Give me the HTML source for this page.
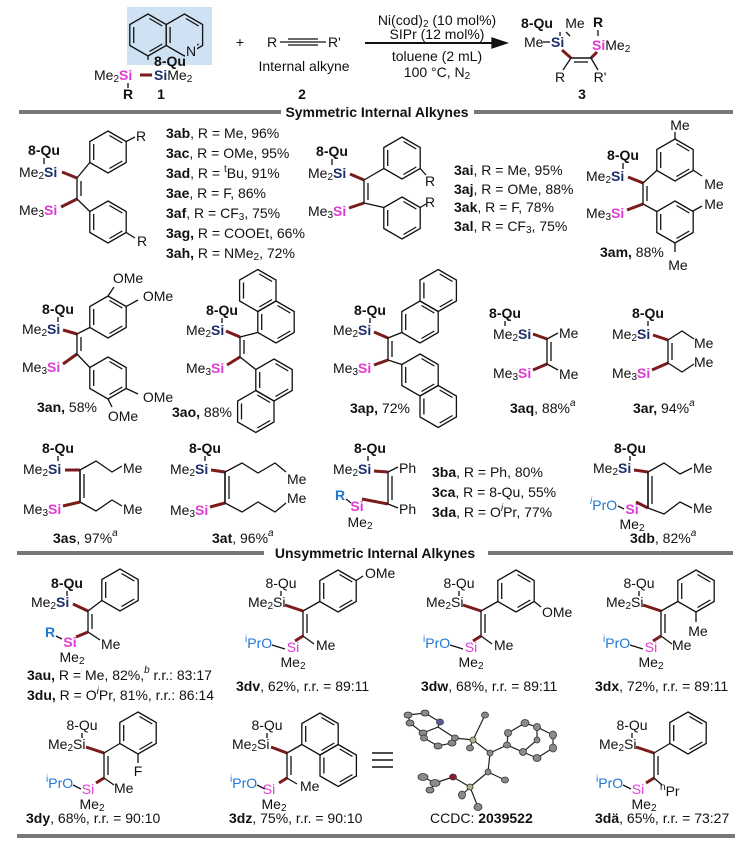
<!DOCTYPE html>
<html><head><meta charset="utf-8"><style>
html,body{margin:0;padding:0;background:#fff}
svg{display:block}
text{font-family:"Liberation Sans",Arial,sans-serif;font-size:14px;fill:#111;dominant-baseline:central}
.b{font-weight:bold}
.s{font-size:10px}
.n{fill:#1c2f6b;font-weight:bold}
.m{fill:#e03ad6;font-weight:bold}
.mr{fill:#e03ad6}
.bl{fill:#1f78d1}
.blb{fill:#1f78d1;font-weight:bold}
line,polyline,polygon{stroke:#111;stroke-width:1.3;fill:none}
.r{stroke:#7b1b1b;stroke-width:3}
.g{stroke:#777;stroke-width:4}
.at{fill:#8a8a8a;stroke:#333;stroke-width:0.8}
.cb{stroke:#222;stroke-width:1.2}
</style></head><body>
<svg width="751" height="845" viewBox="0 0 751 845" xmlns="http://www.w3.org/2000/svg">
<defs>
<g id="h">
<polygon points="0,-21 18.2,-10.5 18.2,10.5 0,21 -18.2,10.5 -18.2,-10.5"/>
<line x1="1.5" y1="-16.5" x2="14.3" y2="-9"/>
<line x1="14.3" y1="9" x2="1.5" y2="16.5"/>
<line x1="-14.3" y1="8" x2="-14.3" y2="-8"/>
</g>
</defs>

<!-- ===== top reaction ===== -->
<rect x="127" y="7" width="85" height="58" fill="#cfe2f3"/>
<use href="#h" x="148" y="35"/>
<use href="#h" x="184.4" y="35"/>
<rect x="185" y="44" width="12" height="14" fill="#cfe2f3"/>
<text x="191" y="51" text-anchor="middle">N</text>
<line x1="148" y1="56" x2="148" y2="60"/>
<text x="170" y="61" class="b" text-anchor="middle">8-Qu</text>
<text x="94" y="75">Me<tspan class="s" dy="4">2</tspan><tspan dy="-4" class="m">Si</tspan></text>
<line x1="140" y1="75" x2="152" y2="75" class="r"/>
<text x="154" y="75"><tspan class="n">Si</tspan>Me<tspan class="s" dy="4">2</tspan></text>
<line x1="128" y1="83" x2="128" y2="88"/>
<text x="128" y="94" class="b" text-anchor="middle">R</text>
<text x="161" y="94" class="b" text-anchor="middle">1</text>

<text x="240" y="42" text-anchor="middle">+</text>
<text x="267" y="42">R</text>
<line x1="280" y1="42" x2="326" y2="42"/>
<line x1="288" y1="39" x2="318" y2="39"/>
<line x1="288" y1="45" x2="318" y2="45"/>
<text x="328" y="42">R'</text>
<text x="304" y="66" text-anchor="middle">Internal alkyne</text>
<text x="302" y="94" class="b" text-anchor="middle">2</text>

<line x1="365" y1="43" x2="495" y2="43" style="stroke-width:2"/>
<polygon points="507,43 492,38 492,48" style="fill:#111;stroke:#111"/>
<text x="437" y="20" text-anchor="middle">Ni(cod)<tspan class="s" dy="4">2</tspan><tspan dy="-4"> (10 mol%)</tspan></text>
<text x="437" y="34" text-anchor="middle">SIPr (12 mol%)</text>
<text x="437" y="56" text-anchor="middle">toluene (2 mL)</text>
<text x="437" y="72" text-anchor="middle">100 °C, N<tspan class="s" dy="4">2</tspan></text>

<text x="537" y="23" class="b" text-anchor="middle">8-Qu</text>
<text x="575" y="23" text-anchor="middle">Me</text>
<text x="598" y="22" class="b" text-anchor="middle">R</text>
<text x="524" y="42">Me</text>
<line x1="543" y1="42" x2="550" y2="42"/>
<text x="551" y="42" class="n">Si</text>
<line x1="560" y1="32" x2="560" y2="36"/>
<line x1="566" y1="32" x2="570" y2="36"/>
<line x1="598" y1="30" x2="598" y2="36"/>
<text x="592" y="45"><tspan class="m">Si</tspan>Me<tspan class="s" dy="4">2</tspan></text>
<line x1="562" y1="50" x2="571" y2="58" class="r"/>
<line x1="597" y1="52" x2="591" y2="58" class="r"/>
<line x1="571" y1="58" x2="591" y2="58" style="stroke-width:1.5"/>
<line x1="574" y1="62" x2="588" y2="62"/>
<line x1="571" y1="58" x2="563" y2="70"/>
<line x1="591" y1="58" x2="598" y2="70"/>
<text x="560" y="77" text-anchor="middle">R</text>
<text x="600" y="77" text-anchor="middle">R'</text>
<text x="582" y="94" class="b" text-anchor="middle">3</text>

<!-- header 1 -->
<line x1="19" y1="112" x2="281" y2="112" class="g"/>
<line x1="474" y1="112" x2="733" y2="112" class="g"/>
<text x="377" y="112" class="b" text-anchor="middle">Symmetric Internal Alkynes</text>

<!-- 3ab -->
<text x="44" y="150" class="b" text-anchor="middle">8-Qu</text>
<line x1="44" y1="158" x2="44" y2="164"/>
<text x="19" y="172">Me<tspan class="s" dy="4">2</tspan><tspan dy="-4" class="n">Si</tspan></text>
<text x="19" y="210">Me<tspan class="s" dy="4">3</tspan><tspan dy="-4" class="m">Si</tspan></text>
<line x1="62" y1="172" x2="77" y2="178" class="r"/>
<line x1="61" y1="207" x2="77" y2="199" class="r"/>
<line x1="77" y1="178" x2="77" y2="199"/><line x1="81" y1="181" x2="81" y2="196"/>
<use href="#h" x="108" y="152"/><use href="#h" x="108" y="222"/>
<line x1="77" y1="178" x2="89.8" y2="162.5"/>
<line x1="77" y1="199" x2="89.8" y2="211.5"/>
<line x1="126.2" y1="141.5" x2="135" y2="137"/>
<line x1="126.2" y1="232.5" x2="135" y2="238"/>
<text x="141" y="136" text-anchor="middle">R</text>
<text x="142" y="241" text-anchor="middle">R</text>
<text x="166" y="133"><tspan class="b">3ab</tspan>, R = Me, 96%</text>
<text x="166" y="153"><tspan class="b">3ac</tspan>, R = OMe, 95%</text>
<text x="166" y="173"><tspan class="b">3ad</tspan>, R = <tspan class="s" dy="-4">t</tspan><tspan dy="4">Bu, 91%</tspan></text>
<text x="166" y="193"><tspan class="b">3ae</tspan>, R = F, 86%</text>
<text x="166" y="213"><tspan class="b">3af</tspan>, R = CF<tspan class="s" dy="4">3</tspan><tspan dy="-4">, 75%</tspan></text>
<text x="166" y="233"><tspan class="b">3ag,</tspan> R = COOEt, 66%</text>
<text x="166" y="253"><tspan class="b">3ah,</tspan> R = NMe<tspan class="s" dy="4">2</tspan><tspan dy="-4">, 72%</tspan></text>

<!-- 3ai -->
<text x="332" y="151" class="b" text-anchor="middle">8-Qu</text>
<line x1="332" y1="159" x2="332" y2="165"/>
<text x="308" y="173">Me<tspan class="s" dy="4">2</tspan><tspan dy="-4" class="n">Si</tspan></text>
<text x="308" y="211">Me<tspan class="s" dy="4">3</tspan><tspan dy="-4" class="m">Si</tspan></text>
<line x1="350" y1="174" x2="364" y2="180" class="r"/>
<line x1="349" y1="208" x2="364" y2="203" class="r"/>
<line x1="364" y1="180" x2="364" y2="203"/><line x1="368" y1="183" x2="368" y2="200"/>
<use href="#h" x="402" y="158"/><use href="#h" x="402" y="218"/>
<line x1="364" y1="180" x2="383.8" y2="168.5"/>
<line x1="364" y1="203" x2="383.8" y2="207.5"/>
<line x1="420.2" y1="168.5" x2="426" y2="175"/>
<line x1="420.2" y1="207.5" x2="426" y2="204"/>
<text x="430" y="181" text-anchor="middle">R</text>
<text x="430" y="202" text-anchor="middle">R</text>
<text x="454" y="170"><tspan class="b">3ai</tspan>, R = Me, 95%</text>
<text x="454" y="189"><tspan class="b">3aj</tspan>, R = OMe, 88%</text>
<text x="454" y="207"><tspan class="b">3ak</tspan>, R = F, 78%</text>
<text x="454" y="226"><tspan class="b">3al</tspan>, R = CF<tspan class="s" dy="4">3</tspan><tspan dy="-4">, 75%</tspan></text>

<!-- 3am -->
<text x="623" y="155" class="b" text-anchor="middle">8-Qu</text>
<line x1="623" y1="163" x2="623" y2="169"/>
<text x="586" y="176">Me<tspan class="s" dy="4">2</tspan><tspan dy="-4" class="n">Si</tspan></text>
<text x="586" y="213">Me<tspan class="s" dy="4">3</tspan><tspan dy="-4" class="m">Si</tspan></text>
<line x1="628" y1="177" x2="643" y2="183" class="r"/>
<line x1="627" y1="210" x2="643" y2="204" class="r"/>
<line x1="643" y1="183" x2="643" y2="204"/><line x1="647" y1="186" x2="647" y2="201"/>
<use href="#h" x="675" y="160"/><use href="#h" x="675" y="222"/>
<line x1="643" y1="183" x2="656.8" y2="170.5"/>
<line x1="643" y1="204" x2="656.8" y2="211.5"/>
<line x1="675" y1="139" x2="675" y2="132"/>
<text x="680" y="125" text-anchor="middle">Me</text>
<line x1="693" y1="170" x2="702" y2="176"/>
<text x="714" y="184" text-anchor="middle">Me</text>
<line x1="693" y1="211" x2="702" y2="206"/>
<text x="714" y="204" text-anchor="middle">Me</text>
<line x1="675" y1="243" x2="675" y2="252"/>
<text x="678" y="265" text-anchor="middle">Me</text>
<text x="600" y="252"><tspan class="b">3am,</tspan> 88%</text>

<!-- 3an -->
<text x="58" y="309" class="b" text-anchor="middle">8-Qu</text>
<line x1="58" y1="317" x2="58" y2="322"/>
<text x="22" y="329">Me<tspan class="s" dy="4">2</tspan><tspan dy="-4" class="n">Si</tspan></text>
<text x="22" y="367">Me<tspan class="s" dy="4">3</tspan><tspan dy="-4" class="m">Si</tspan></text>
<line x1="63" y1="330" x2="77" y2="334" class="r"/>
<line x1="63" y1="364" x2="77" y2="354" class="r"/>
<line x1="77" y1="334" x2="77" y2="354"/><line x1="81" y1="337" x2="81" y2="351"/>
<use href="#h" x="108" y="317"/><use href="#h" x="108" y="378"/>
<line x1="77" y1="334" x2="89.8" y2="327.5"/>
<line x1="77" y1="354" x2="89.8" y2="367.5"/>
<line x1="108" y1="296" x2="114" y2="287"/>
<text x="128" y="278" text-anchor="middle">OMe</text>
<line x1="126.2" y1="306.5" x2="138" y2="300"/>
<text x="158" y="296" text-anchor="middle">OMe</text>
<line x1="126.2" y1="388.5" x2="138" y2="394"/>
<text x="158" y="397" text-anchor="middle">OMe</text>
<line x1="108" y1="399" x2="112" y2="407"/>
<text x="123" y="416" text-anchor="middle">OMe</text>
<text x="37" y="407"><tspan class="b">3an,</tspan> 58%</text>

<!-- 3ao -->
<text x="222" y="310" class="b" text-anchor="middle">8-Qu</text>
<line x1="222" y1="318" x2="222" y2="323"/>
<text x="186" y="330">Me<tspan class="s" dy="4">2</tspan><tspan dy="-4" class="n">Si</tspan></text>
<text x="186" y="368">Me<tspan class="s" dy="4">3</tspan><tspan dy="-4" class="m">Si</tspan></text>
<line x1="226" y1="331" x2="240" y2="337" class="r"/>
<line x1="227" y1="365" x2="240" y2="357" class="r"/>
<line x1="240" y1="337" x2="240" y2="357"/><line x1="244" y1="340" x2="244" y2="354"/>
<use href="#h" x="276" y="322"/><use href="#h" x="257.8" y="290.5"/>
<use href="#h" x="274" y="380"/><use href="#h" x="255.8" y="411.5"/>
<line x1="240" y1="337" x2="257.8" y2="332.5"/>
<line x1="240" y1="357" x2="255.8" y2="369.5"/>
<text x="172" y="412"><tspan class="b">3ao,</tspan> 88%</text>

<!-- 3ap -->
<text x="370" y="310" class="b" text-anchor="middle">8-Qu</text>
<line x1="370" y1="318" x2="370" y2="323"/>
<text x="333" y="330">Me<tspan class="s" dy="4">2</tspan><tspan dy="-4" class="n">Si</tspan></text>
<text x="333" y="368">Me<tspan class="s" dy="4">3</tspan><tspan dy="-4" class="m">Si</tspan></text>
<line x1="374" y1="332" x2="388" y2="338" class="r"/>
<line x1="374" y1="365" x2="388" y2="360" class="r"/>
<line x1="388" y1="338" x2="388" y2="360"/><line x1="392" y1="341" x2="392" y2="357"/>
<use href="#h" x="420" y="322"/><use href="#h" x="438.2" y="290.5"/>
<use href="#h" x="420" y="375"/><use href="#h" x="438.2" y="406.5"/>
<line x1="388" y1="338" x2="401.8" y2="332.5"/>
<line x1="388" y1="360" x2="401.8" y2="364.5"/>
<text x="350" y="408"><tspan class="b">3ap,</tspan> 72%</text>

<!-- 3aq -->
<text x="505" y="313" class="b" text-anchor="middle">8-Qu</text>
<line x1="505" y1="321" x2="505" y2="326"/>
<text x="493" y="334">Me<tspan class="s" dy="4">2</tspan><tspan dy="-4" class="n">Si</tspan></text>
<text x="493" y="373">Me<tspan class="s" dy="4">3</tspan><tspan dy="-4" class="m">Si</tspan></text>
<line x1="533" y1="334" x2="547" y2="339" class="r"/>
<line x1="533" y1="370" x2="547" y2="364" class="r"/>
<line x1="547" y1="339" x2="547" y2="364"/><line x1="551" y1="342" x2="551" y2="361"/>
<line x1="547" y1="339" x2="558" y2="333"/><line x1="547" y1="364" x2="558" y2="370"/>
<text x="559" y="333">Me</text><text x="559" y="374">Me</text>
<text x="510" y="408"><tspan class="b">3aq</tspan>, 88%<tspan class="s" dy="-5" font-style="italic">a</tspan></text>

<!-- 3ar -->
<text x="648" y="313" class="b" text-anchor="middle">8-Qu</text>
<line x1="648" y1="321" x2="648" y2="326"/>
<text x="612" y="334">Me<tspan class="s" dy="4">2</tspan><tspan dy="-4" class="n">Si</tspan></text>
<text x="612" y="373">Me<tspan class="s" dy="4">3</tspan><tspan dy="-4" class="m">Si</tspan></text>
<line x1="653" y1="335" x2="668" y2="340" class="r"/>
<line x1="652" y1="370" x2="668" y2="363" class="r"/>
<line x1="668" y1="340" x2="668" y2="363"/><line x1="672" y1="343" x2="672" y2="360"/>
<polyline points="668,340 682,331 694,339"/>
<polyline points="668,363 682,372 694,364"/>
<text x="694" y="343">Me</text><text x="694" y="362">Me</text>
<text x="633" y="408"><tspan class="b">3ar,</tspan> 94%<tspan class="s" dy="-5" font-style="italic">a</tspan></text>

<!-- 3as -->
<text x="58" y="448" class="b" text-anchor="middle">8-Qu</text>
<line x1="58" y1="456" x2="58" y2="461"/>
<text x="23" y="469">Me<tspan class="s" dy="4">2</tspan><tspan dy="-4" class="n">Si</tspan></text>
<text x="23" y="509">Me<tspan class="s" dy="4">3</tspan><tspan dy="-4" class="m">Si</tspan></text>
<line x1="65" y1="470" x2="80" y2="470" class="r"/>
<line x1="63" y1="506" x2="80" y2="502" class="r"/>
<line x1="80" y1="470" x2="80" y2="502" style="stroke-width:1.6"/><line x1="84" y1="474" x2="84" y2="498"/>
<polyline points="80,470 96,461 112,472 122,466"/>
<polyline points="80,502 96,511 112,500 122,506"/>
<text x="123" y="468">Me</text><text x="123" y="509">Me</text>
<text x="53" y="538"><tspan class="b">3as</tspan>, 97%<tspan class="s" dy="-5" font-style="italic">a</tspan></text>

<!-- 3at -->
<text x="205" y="448" class="b" text-anchor="middle">8-Qu</text>
<line x1="205" y1="456" x2="205" y2="461"/>
<text x="170" y="469">Me<tspan class="s" dy="4">2</tspan><tspan dy="-4" class="n">Si</tspan></text>
<text x="170" y="510">Me<tspan class="s" dy="4">3</tspan><tspan dy="-4" class="m">Si</tspan></text>
<line x1="211" y1="470" x2="225" y2="472" class="r"/>
<line x1="210" y1="507" x2="225" y2="503" class="r"/>
<line x1="225" y1="472" x2="225" y2="503" style="stroke-width:1.6"/><line x1="229" y1="476" x2="229" y2="499"/>
<polyline points="225,472 242,463 258,473 275,463 286,472"/>
<polyline points="225,503 242,512 258,502 275,512 286,503"/>
<text x="287" y="479">Me</text><text x="287" y="498">Me</text>
<text x="212" y="538"><tspan class="b">3at</tspan>, 96%<tspan class="s" dy="-5" font-style="italic">a</tspan></text>

<!-- 3ba -->
<text x="370" y="448" class="b" text-anchor="middle">8-Qu</text>
<line x1="368" y1="456" x2="368" y2="461"/>
<text x="333" y="469">Me<tspan class="s" dy="4">2</tspan><tspan dy="-4" class="n">Si</tspan></text>
<line x1="374" y1="471" x2="388" y2="472" class="r"/>
<line x1="362" y1="499" x2="388" y2="504" class="r"/>
<line x1="388" y1="472" x2="388" y2="504"/><line x1="392" y1="476" x2="392" y2="500"/>
<line x1="388" y1="472" x2="398" y2="467"/><line x1="388" y1="504" x2="398" y2="508"/>
<text x="399" y="468">Ph</text><text x="399" y="509">Ph</text>
<text x="340" y="495" class="blb" text-anchor="middle">R</text>
<line x1="346" y1="499" x2="351" y2="503"/>
<text x="357" y="506" class="m" text-anchor="middle">Si</text>
<text x="360" y="522" text-anchor="middle">Me<tspan class="s" dy="4">2</tspan></text>
<text x="432" y="472"><tspan class="b">3ba</tspan>, R = Ph, 80%</text>
<text x="432" y="492"><tspan class="b">3ca</tspan>, R = 8-Qu, 55%</text>
<text x="432" y="512"><tspan class="b">3da</tspan>, R = O<tspan class="s" dy="-4" font-style="italic">i</tspan><tspan dy="4">Pr, 77%</tspan></text>

<!-- 3db -->
<text x="630" y="448" class="b" text-anchor="middle">8-Qu</text>
<line x1="630" y1="456" x2="630" y2="461"/>
<text x="593" y="468">Me<tspan class="s" dy="4">2</tspan><tspan dy="-4" class="n">Si</tspan></text>
<line x1="634" y1="470" x2="648" y2="472" class="r"/>
<line x1="636" y1="502" x2="648" y2="508" class="r"/>
<line x1="648" y1="472" x2="648" y2="508" style="stroke-width:1.6"/><line x1="652" y1="476" x2="652" y2="504"/>
<polyline points="648,472 664,463 680,474 692,468"/>
<polyline points="648,508 664,514 680,502 692,508"/>
<text x="693" y="468">Me</text><text x="693" y="508">Me</text>
<text x="590" y="505" class="bl"><tspan class="s" dy="-4" font-style="italic">i</tspan><tspan dy="4">PrO</tspan></text>
<line x1="618" y1="506" x2="624" y2="509"/>
<text x="632" y="509" class="m" text-anchor="middle">Si</text>
<text x="632" y="524" text-anchor="middle">Me<tspan class="s" dy="4">2</tspan></text>
<text x="630" y="538"><tspan class="b">3db</tspan>, 82%<tspan class="s" dy="-5" font-style="italic">a</tspan></text>

<!-- header 2 -->
<line x1="17" y1="553" x2="264" y2="553" class="g"/>
<line x1="488" y1="553" x2="733" y2="553" class="g"/>
<text x="375" y="553" class="b" text-anchor="middle">Unsymmetric Internal Alkynes</text>

<!-- 3au -->
<text x="67" y="583" class="b" text-anchor="middle">8-Qu</text>
<line x1="67" y1="591" x2="67" y2="596"/>
<text x="31" y="602">Me<tspan class="s" dy="4">2</tspan><tspan dy="-4" class="n">Si</tspan></text>
<line x1="73" y1="604" x2="88" y2="611" class="r"/>
<line x1="88" y1="611" x2="88" y2="632"/><line x1="92" y1="614" x2="92" y2="629"/>
<use href="#h" x="120" y="590"/>
<line x1="88" y1="611" x2="101.8" y2="600.5"/>
<line x1="76" y1="637" x2="88" y2="632" class="r"/>
<line x1="88" y1="632" x2="100" y2="640"/>
<text x="101" y="644">Me</text>
<text x="50" y="632" class="blb" text-anchor="middle">R</text>
<line x1="56" y1="636" x2="62" y2="639"/>
<text x="70" y="642" class="m" text-anchor="middle">Si</text>
<text x="72" y="657" text-anchor="middle">Me<tspan class="s" dy="4">2</tspan></text>
<text x="27" y="675"><tspan class="b">3au,</tspan> R = Me, 82%,<tspan class="s" dy="-5" font-style="italic">b</tspan><tspan dy="5"> r.r.: 83:17</tspan></text>
<text x="27" y="695"><tspan class="b">3du,</tspan> R = O<tspan class="s" dy="-4" font-style="italic">i</tspan><tspan dy="4">Pr,  81%, r.r.: 86:14</tspan></text>

<g transform="translate(281,583)">
<text x="0" y="0" text-anchor="middle">8-Qu</text>
<line x1="0" y1="8" x2="0" y2="13"/>
<text x="-33" y="19">Me<tspan class="s" dy="4">2</tspan><tspan dy="-4">Si</tspan></text>
<line x1="4" y1="22" x2="22" y2="28" class="r"/>
<line x1="22" y1="28" x2="22" y2="53"/><line x1="26" y1="31" x2="26" y2="50"/>
<use href="#h" x="57" y="8"/>
<line x1="22" y1="28" x2="38.8" y2="18.5"/>
<line x1="14" y1="58" x2="22" y2="53" class="r"/>
<line x1="22" y1="53" x2="33" y2="61"/>
<text x="35" y="62">Me</text>
<text x="-36" y="60" class="bl"><tspan class="s" dy="-4">i</tspan><tspan dy="4">PrO</tspan></text>
<line x1="-9" y1="62" x2="4" y2="66"/>
<text x="12" y="64" class="mr" text-anchor="middle">Si</text>
<text x="12" y="79" text-anchor="middle">Me<tspan class="s" dy="4">2</tspan></text>
<line x1="75.2" y1="-2.5" x2="82" y2="-7"/>
<text x="84" y="-10">OMe</text>
</g>
<text x="236" y="686"><tspan class="b">3dv</tspan>, 62%, r.r. = 89:11</text>

<g transform="translate(459,583)">
<text x="0" y="0" text-anchor="middle">8-Qu</text>
<line x1="0" y1="8" x2="0" y2="13"/>
<text x="-33" y="19">Me<tspan class="s" dy="4">2</tspan><tspan dy="-4">Si</tspan></text>
<line x1="4" y1="22" x2="22" y2="28" class="r"/>
<line x1="22" y1="28" x2="22" y2="53"/><line x1="26" y1="31" x2="26" y2="50"/>
<use href="#h" x="57" y="8"/>
<line x1="22" y1="28" x2="38.8" y2="18.5"/>
<line x1="14" y1="58" x2="22" y2="53" class="r"/>
<line x1="22" y1="53" x2="33" y2="61"/>
<text x="35" y="62">Me</text>
<text x="-36" y="60" class="bl"><tspan class="s" dy="-4">i</tspan><tspan dy="4">PrO</tspan></text>
<line x1="-9" y1="62" x2="4" y2="66"/>
<text x="12" y="64" class="mr" text-anchor="middle">Si</text>
<text x="12" y="79" text-anchor="middle">Me<tspan class="s" dy="4">2</tspan></text>
<line x1="75.2" y1="18.5" x2="82" y2="24"/>
<text x="83" y="29">OMe</text>
</g>
<text x="421" y="686"><tspan class="b">3dw</tspan>, 68%, r.r. = 89:11</text>

<g transform="translate(639,583)">
<text x="0" y="0" text-anchor="middle">8-Qu</text>
<line x1="0" y1="8" x2="0" y2="13"/>
<text x="-33" y="19">Me<tspan class="s" dy="4">2</tspan><tspan dy="-4">Si</tspan></text>
<line x1="4" y1="22" x2="22" y2="28" class="r"/>
<line x1="22" y1="28" x2="22" y2="53"/><line x1="26" y1="31" x2="26" y2="50"/>
<use href="#h" x="57" y="8"/>
<line x1="22" y1="28" x2="38.8" y2="18.5"/>
<line x1="14" y1="58" x2="22" y2="53" class="r"/>
<line x1="22" y1="53" x2="33" y2="61"/>
<text x="33" y="62">Me</text>
<text x="-36" y="60" class="bl"><tspan class="s" dy="-4">i</tspan><tspan dy="4">PrO</tspan></text>
<line x1="-9" y1="62" x2="4" y2="66"/>
<text x="12" y="64" class="mr" text-anchor="middle">Si</text>
<text x="12" y="79" text-anchor="middle">Me<tspan class="s" dy="4">2</tspan></text>
<line x1="57" y1="29" x2="57" y2="39"/>
<text x="59" y="48" text-anchor="middle">Me</text>
</g>
<text x="595" y="686"><tspan class="b">3dx</tspan>, 72%, r.r. = 89:11</text>

<g transform="translate(82,725)">
<text x="0" y="0" text-anchor="middle">8-Qu</text>
<line x1="0" y1="8" x2="0" y2="13"/>
<text x="-34" y="19">Me<tspan class="s" dy="4">2</tspan><tspan dy="-4">Si</tspan></text>
<line x1="4" y1="22" x2="22" y2="28" class="r"/>
<line x1="22" y1="28" x2="22" y2="53"/><line x1="26" y1="31" x2="26" y2="50"/>
<use href="#h" x="56" y="8"/>
<line x1="22" y1="28" x2="37.8" y2="18.5"/>
<line x1="14" y1="58" x2="22" y2="53" class="r"/>
<line x1="22" y1="53" x2="32" y2="60"/>
<text x="32" y="63">Me</text>
<text x="-36" y="58" class="bl"><tspan class="s" dy="-4">i</tspan><tspan dy="4">PrO</tspan></text>
<line x1="-9" y1="60" x2="-1" y2="64"/>
<text x="6" y="64" class="mr" text-anchor="middle">Si</text>
<text x="10" y="79" text-anchor="middle">Me<tspan class="s" dy="4">2</tspan></text>
<line x1="56" y1="29" x2="56" y2="38"/>
<text x="56" y="46" text-anchor="middle">F</text>
</g>
<text x="26" y="818"><tspan class="b">3dy</tspan>, 68%, r.r. = 90:10</text>

<g transform="translate(267,725)">
<text x="0" y="0" text-anchor="middle">8-Qu</text>
<line x1="0" y1="8" x2="0" y2="13"/>
<text x="-35" y="19">Me<tspan class="s" dy="4">2</tspan><tspan dy="-4">Si</tspan></text>
<line x1="4" y1="22" x2="20" y2="28" class="r"/>
<line x1="20" y1="28" x2="20" y2="53"/><line x1="24" y1="31" x2="24" y2="50"/>
<use href="#h" x="53" y="9"/><use href="#h" x="71.2" y="40.5"/>
<line x1="20" y1="28" x2="34.8" y2="19.5"/>
<line x1="12" y1="58" x2="20" y2="53" class="r"/>
<line x1="20" y1="53" x2="30" y2="59"/>
<text x="33" y="61">Me</text>
<text x="-37" y="58" class="bl"><tspan class="s" dy="-4">i</tspan><tspan dy="4">PrO</tspan></text>
<line x1="-10" y1="60" x2="-2" y2="64"/>
<text x="2" y="64" class="mr" text-anchor="middle">Si</text>
<text x="7" y="79" text-anchor="middle">Me<tspan class="s" dy="4">2</tspan></text>
</g>
<text x="229" y="818"><tspan class="b">3dz</tspan>, 75%, r.r. = 90:10</text>

<line x1="372" y1="753" x2="393" y2="753" style="stroke-width:1.6"/>
<line x1="372" y1="760" x2="393" y2="760" style="stroke-width:1.6"/>
<line x1="372" y1="767" x2="393" y2="767" style="stroke-width:1.6"/>

<g>
<polyline class="cb" points="408,715 425,713 440,722 438,727 423,733 410,723 408,715"/>
<polyline class="cb" points="438,727 455,738 452,743 438,746 424,738 423,733"/>
<line class="cb" x1="455" y1="738" x2="473" y2="740"/>
<line class="cb" x1="473" y1="740" x2="485" y2="715"/>
<line class="cb" x1="473" y1="740" x2="470" y2="748"/>
<line class="cb" x1="473" y1="740" x2="490" y2="753"/>
<line class="cb" x1="490" y1="753" x2="507" y2="745"/>
<polyline class="cb" points="507,745 508,733 525,723 537,727 537,740 523,752 507,745"/>
<polyline class="cb" points="537,727 553,735 553,748 537,758 523,752"/>
<line class="cb" x1="490" y1="753" x2="488" y2="772"/>
<line class="cb" x1="488" y1="772" x2="505" y2="780"/>
<line class="cb" x1="488" y1="772" x2="470" y2="787"/>
<line class="cb" x1="470" y1="787" x2="453" y2="777"/>
<line class="cb" x1="453" y1="777" x2="435" y2="783"/>
<line class="cb" x1="435" y1="783" x2="423" y2="777"/>
<line class="cb" x1="435" y1="783" x2="430" y2="790"/>
<line class="cb" x1="470" y1="787" x2="462" y2="795"/>
<line class="cb" x1="470" y1="787" x2="478" y2="807"/>
<g class="at">
<ellipse cx="408" cy="715" rx="4" ry="3"/><ellipse cx="425" cy="713" rx="4" ry="3"/>
<ellipse cx="440" cy="722" rx="3.5" ry="3" style="fill:#5a5aa0"/><ellipse cx="410" cy="723" rx="4" ry="3"/>
<ellipse cx="423" cy="733" rx="4" ry="3"/><ellipse cx="438" cy="746" rx="4" ry="3"/>
<ellipse cx="452" cy="743" rx="4" ry="3"/><ellipse cx="455" cy="738" rx="3.5" ry="3"/><ellipse cx="424" cy="738" rx="3.5" ry="3"/>
<ellipse cx="473" cy="740" rx="3" ry="3" style="fill:#b8b38a"/>
<ellipse cx="485" cy="715" rx="3.5" ry="3"/><ellipse cx="470" cy="748" rx="3.5" ry="3"/>
<ellipse cx="490" cy="753" rx="3" ry="3"/><ellipse cx="507" cy="745" rx="3.5" ry="3"/>
<ellipse cx="508" cy="733" rx="3.5" ry="3.5"/><ellipse cx="525" cy="723" rx="4" ry="3.5"/>
<ellipse cx="537" cy="727" rx="3.5" ry="3.5"/><ellipse cx="553" cy="735" rx="3.5" ry="4"/>
<ellipse cx="553" cy="748" rx="3.5" ry="4"/><ellipse cx="537" cy="758" rx="4" ry="3.5"/>
<ellipse cx="523" cy="752" rx="3.5" ry="3.5"/><ellipse cx="537" cy="740" rx="3" ry="3"/>
<ellipse cx="488" cy="772" rx="3" ry="3"/><ellipse cx="505" cy="780" rx="3.5" ry="3"/>
<ellipse cx="470" cy="787" rx="3" ry="3" style="fill:#b8b38a"/>
<ellipse cx="453" cy="777" rx="3.5" ry="3" style="fill:#8b1b2b"/>
<ellipse cx="435" cy="783" rx="5" ry="3.5"/><ellipse cx="423" cy="777" rx="5" ry="3.5"/><ellipse cx="430" cy="790" rx="4" ry="3"/>
<ellipse cx="462" cy="795" rx="3.5" ry="4"/><ellipse cx="478" cy="807" rx="4" ry="3.5"/>
</g>
</g>
<text x="430" y="818">CCDC: <tspan class="b">2039522</tspan></text>

<g transform="translate(632,725)">
<text x="0" y="0" text-anchor="middle">8-Qu</text>
<line x1="0" y1="8" x2="0" y2="13"/>
<text x="-33" y="19">Me<tspan class="s" dy="4">2</tspan><tspan dy="-4">Si</tspan></text>
<line x1="4" y1="22" x2="22" y2="28" class="r"/>
<line x1="22" y1="28" x2="22" y2="53"/><line x1="26" y1="31" x2="26" y2="50"/>
<use href="#h" x="56" y="8"/>
<line x1="22" y1="28" x2="37.8" y2="18.5"/>
<line x1="14" y1="58" x2="22" y2="53" class="r"/>
<line x1="22" y1="53" x2="30" y2="60"/>
<text x="28" y="66"><tspan class="s" dy="-4">n</tspan><tspan dy="4">Pr</tspan></text>
<text x="-36" y="58" class="bl"><tspan class="s" dy="-4">i</tspan><tspan dy="4">PrO</tspan></text>
<line x1="-9" y1="60" x2="-1" y2="64"/>
<text x="6" y="64" class="mr" text-anchor="middle">Si</text>
<text x="12" y="79" text-anchor="middle">Me<tspan class="s" dy="4">2</tspan></text>
</g>
<text x="595" y="818"><tspan class="b">3dä</tspan>, 65%, r.r. = 73:27</text>

<line x1="17" y1="836" x2="735" y2="836" class="g"/>
</svg>
</body></html>
